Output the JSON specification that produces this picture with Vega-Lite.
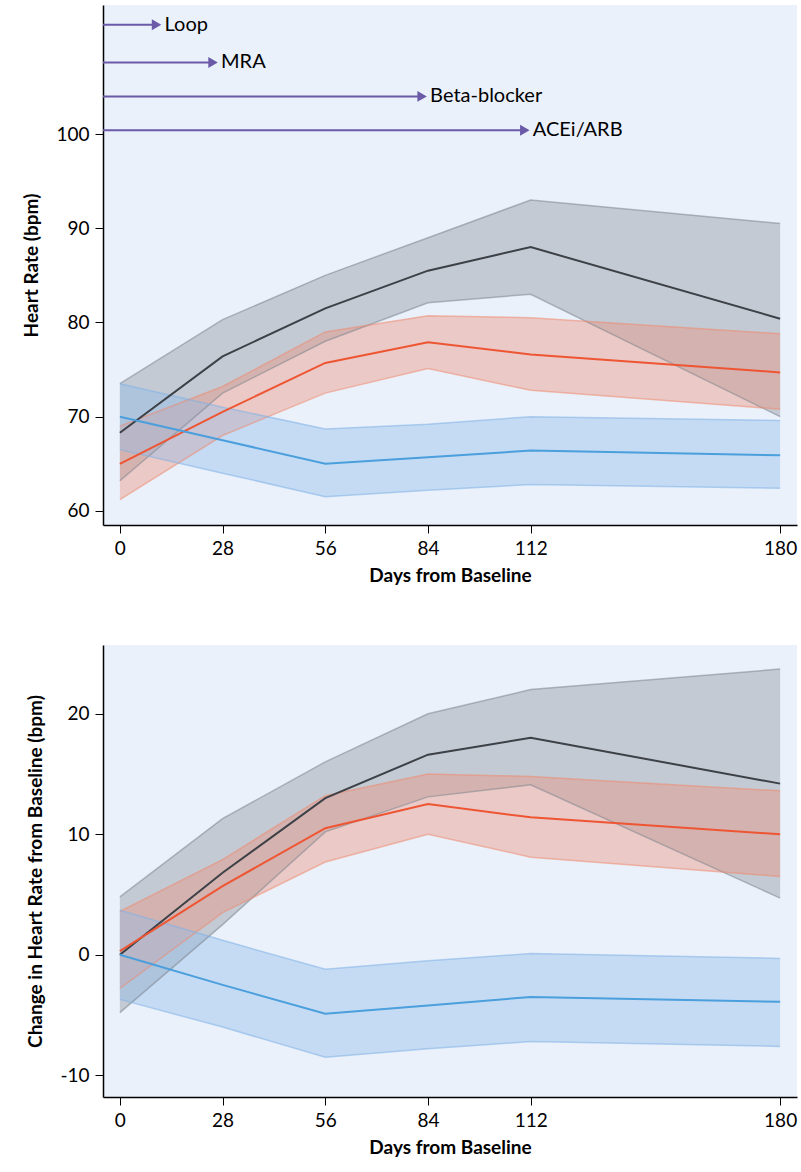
{
  "$schema": "https://vega.github.io/schema/vega-lite/v6.json",
  "background": "white",
  "padding": {"left": 22, "top": 5, "right": 2, "bottom": 5},
  "spacing": 60,
  "config": {
    "view": {"fill": "#eaf1fb", "stroke": null},
    "font": "Lato",
    "axis": {"grid": false, "domainColor": "#000", "tickColor": "#000", "labelColor": "#000", "titleColor": "#000", "labelFontSize": 19, "titleFontSize": 19, "titleFontWeight": "bold", "tickSize": 8, "domainWidth": 1.5, "labelFont": "Lato", "titleFont": "Lato", "labelPadding": 6},
    "axisY": {"titlePadding": 14},
    "axisX": {"titlePadding": 8}
  },
  "datasets": {
    "hr": [
      {"day": 0, "group": "gray", "mean": 68.3, "lo": 63.2, "hi": 73.5},
      {"day": 28, "group": "gray", "mean": 76.4, "lo": 72.5, "hi": 80.3},
      {"day": 56, "group": "gray", "mean": 81.5, "lo": 78, "hi": 85},
      {"day": 84, "group": "gray", "mean": 85.5, "lo": 82.1, "hi": 89},
      {"day": 112, "group": "gray", "mean": 88, "lo": 83, "hi": 93},
      {"day": 180, "group": "gray", "mean": 80.4, "lo": 70, "hi": 90.5},
      {"day": 0, "group": "red", "mean": 65, "lo": 61.2, "hi": 69},
      {"day": 28, "group": "red", "mean": 70.5, "lo": 68, "hi": 73.2},
      {"day": 56, "group": "red", "mean": 75.7, "lo": 72.5, "hi": 79},
      {"day": 84, "group": "red", "mean": 77.9, "lo": 75.1, "hi": 80.7},
      {"day": 112, "group": "red", "mean": 76.6, "lo": 72.8, "hi": 80.5},
      {"day": 180, "group": "red", "mean": 74.7, "lo": 70.8, "hi": 78.8},
      {"day": 0, "group": "blue", "mean": 70, "lo": 66.5, "hi": 73.5},
      {"day": 28, "group": "blue", "mean": 67.5, "lo": 64, "hi": 71},
      {"day": 56, "group": "blue", "mean": 65, "lo": 61.5, "hi": 68.7},
      {"day": 84, "group": "blue", "mean": 65.7, "lo": 62.2, "hi": 69.2},
      {"day": 112, "group": "blue", "mean": 66.4, "lo": 62.8, "hi": 70},
      {"day": 180, "group": "blue", "mean": 65.9, "lo": 62.4, "hi": 69.6}
    ],
    "chg": [
      {"day": 0, "group": "gray", "mean": 0, "lo": -4.8, "hi": 4.8},
      {"day": 28, "group": "gray", "mean": 6.8, "lo": 2.5, "hi": 11.3},
      {"day": 56, "group": "gray", "mean": 13, "lo": 10.2, "hi": 16},
      {"day": 84, "group": "gray", "mean": 16.6, "lo": 13.1, "hi": 20},
      {"day": 112, "group": "gray", "mean": 18, "lo": 14.1, "hi": 22},
      {"day": 180, "group": "gray", "mean": 14.2, "lo": 4.7, "hi": 23.7},
      {"day": 0, "group": "red", "mean": 0.3, "lo": -2.8, "hi": 3.6},
      {"day": 28, "group": "red", "mean": 5.7, "lo": 3.5, "hi": 7.9},
      {"day": 56, "group": "red", "mean": 10.5, "lo": 7.7, "hi": 13.2},
      {"day": 84, "group": "red", "mean": 12.5, "lo": 10, "hi": 15},
      {"day": 112, "group": "red", "mean": 11.4, "lo": 8.1, "hi": 14.8},
      {"day": 180, "group": "red", "mean": 10, "lo": 6.5, "hi": 13.6},
      {"day": 0, "group": "blue", "mean": 0, "lo": -3.7, "hi": 3.7},
      {"day": 28, "group": "blue", "mean": -2.5, "lo": -6, "hi": 1.2},
      {"day": 56, "group": "blue", "mean": -4.9, "lo": -8.5, "hi": -1.2},
      {"day": 84, "group": "blue", "mean": -4.2, "lo": -7.8, "hi": -0.5},
      {"day": 112, "group": "blue", "mean": -3.5, "lo": -7.2, "hi": 0.1},
      {"day": 180, "group": "blue", "mean": -3.9, "lo": -7.6, "hi": -0.3}
    ],
    "arrows": [
      {"label": "Loop", "y": 111.6, "start": -4.6, "end": 10},
      {"label": "MRA", "y": 107.6, "start": -4.6, "end": 25.4},
      {"label": "Beta-blocker", "y": 104, "start": -4.6, "end": 82.4},
      {"label": "ACEi/ARB", "y": 100.4, "start": -4.6, "end": 110.4}
    ]
  },
  "vconcat": [
    {
      "width": 694,
      "height": 520,
      "data": {"name": "hr"},
      "encoding": {
        "x": {"field": "day", "type": "quantitative", "title": "Days from Baseline", "scale": {"domain": [-4.6, 184.6], "nice": false, "zero": false}, "axis": {"values": [0, 28, 56, 84, 112, 180]}}
      },
      "layer": [
        {
          "mark": {"type": "area", "opacity": 0.4},
          "encoding": {
            "y": {"field": "lo", "type": "quantitative", "title": "Heart Rate (bpm)", "scale": {"domain": [58.5, 113.7], "nice": false, "zero": false}, "axis": {"values": [60, 70, 80, 90, 100]}},
            "y2": {"field": "hi"},
            "color": {"field": "group", "type": "nominal", "legend": null, "scale": {"domain": ["gray", "red", "blue"], "range": ["#8a929b", "#ee8f78", "#8ebbea"]}}
          }
        },
        {
          "transform": [{"fold": ["lo", "hi"], "as": ["bound", "val"]}, {"calculate": "datum.group + datum.bound", "as": "gb"}],
          "mark": {"type": "line", "strokeWidth": 1.5, "opacity": 0.55},
          "encoding": {
            "y": {"field": "val", "type": "quantitative"},
            "detail": {"field": "gb"},
            "color": {"field": "group", "type": "nominal", "legend": null, "scale": {"domain": ["gray", "red", "blue"], "range": ["#7d858e", "#ee8a70", "#7fb0e6"]}}
          }
        },
        {
          "mark": {"type": "line", "strokeWidth": 2},
          "encoding": {
            "y": {"field": "mean", "type": "quantitative"},
            "color": {"field": "group", "type": "nominal", "legend": null, "scale": {"domain": ["gray", "red", "blue"], "range": ["#3d4046", "#ee5533", "#4a9fdc"]}}
          }
        },
        {
          "data": {"name": "arrows"},
          "mark": {"type": "rule", "color": "#6a5aa8", "strokeWidth": 2},
          "encoding": {
            "x": {"field": "start", "type": "quantitative"},
            "x2": {"field": "end"},
            "y": {"field": "y", "type": "quantitative"}
          }
        },
        {
          "data": {"name": "arrows"},
          "mark": {"type": "point", "shape": "triangle-right", "filled": true, "color": "#6a5aa8", "size": 120, "opacity": 1},
          "encoding": {
            "x": {"field": "end", "type": "quantitative"},
            "y": {"field": "y", "type": "quantitative"}
          }
        },
        {
          "data": {"name": "arrows"},
          "mark": {"type": "text", "align": "left", "dx": 8, "fontSize": 20, "color": "#000", "font": "Lato"},
          "encoding": {
            "x": {"field": "end", "type": "quantitative"},
            "y": {"field": "y", "type": "quantitative"},
            "text": {"field": "label"}
          }
        }
      ],
      "resolve": {"scale": {"color": "independent"}}
    },
    {
      "width": 694,
      "height": 452,
      "data": {"name": "chg"},
      "encoding": {
        "x": {"field": "day", "type": "quantitative", "title": "Days from Baseline", "scale": {"domain": [-4.6, 184.6], "nice": false, "zero": false}, "axis": {"values": [0, 28, 56, 84, 112, 180]}}
      },
      "layer": [
        {
          "mark": {"type": "area", "opacity": 0.4},
          "encoding": {
            "y": {"field": "lo", "type": "quantitative", "title": "Change in Heart Rate from Baseline (bpm)", "scale": {"domain": [-11.8, 25.7], "nice": false, "zero": false}, "axis": {"values": [-10, 0, 10, 20], "labelExpr": "replace(datum.label, '\u2212', '-')"}},
            "y2": {"field": "hi"},
            "color": {"field": "group", "type": "nominal", "legend": null, "scale": {"domain": ["gray", "red", "blue"], "range": ["#8a929b", "#ee8f78", "#8ebbea"]}}
          }
        },
        {
          "transform": [{"fold": ["lo", "hi"], "as": ["bound", "val"]}, {"calculate": "datum.group + datum.bound", "as": "gb"}],
          "mark": {"type": "line", "strokeWidth": 1.5, "opacity": 0.55},
          "encoding": {
            "y": {"field": "val", "type": "quantitative"},
            "detail": {"field": "gb"},
            "color": {"field": "group", "type": "nominal", "legend": null, "scale": {"domain": ["gray", "red", "blue"], "range": ["#7d858e", "#ee8a70", "#7fb0e6"]}}
          }
        },
        {
          "mark": {"type": "line", "strokeWidth": 2},
          "encoding": {
            "y": {"field": "mean", "type": "quantitative"},
            "color": {"field": "group", "type": "nominal", "legend": null, "scale": {"domain": ["gray", "red", "blue"], "range": ["#3d4046", "#ee5533", "#4a9fdc"]}}
          }
        }
      ],
      "resolve": {"scale": {"color": "independent"}}
    }
  ]
}
